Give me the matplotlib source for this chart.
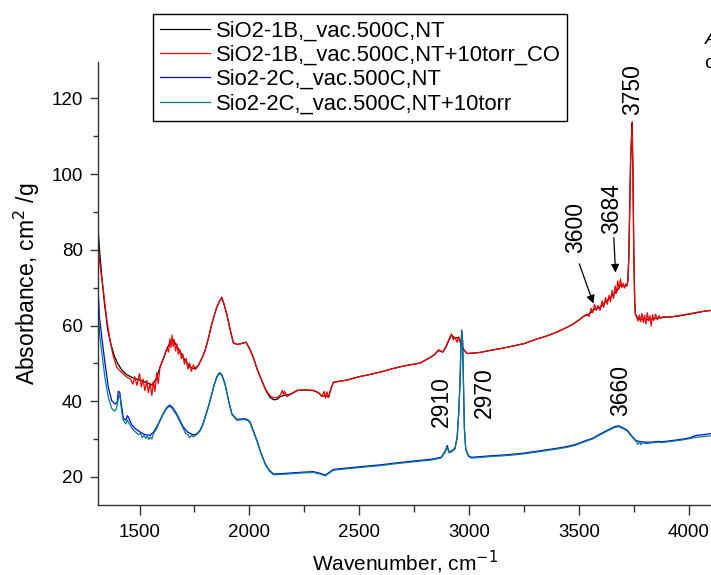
import matplotlib
matplotlib.use("Agg")
import matplotlib.pyplot as plt
from matplotlib.ticker import MultipleLocator

plt.rcParams['font.family'] = ['Liberation Sans', 'DejaVu Sans']

labels = ["SiO2-1B,_vac.500C,NT",
          "SiO2-1B,_vac.500C,NT+10torr_CO",
          "Sio2-2C,_vac.500C,NT",
          "Sio2-2C,_vac.500C,NT+10torr"]
colors = ["#000000", "#ff0000", "#0000ff", "#008080"]

# SiO2-1B, vac 500C, NT  (wavenumber, absorbance)
black_pts = [
    (1311, 86), (1318, 80), (1328, 73), (1340, 66), (1355, 59), (1370, 55), (1385, 52),
    (1400, 50), (1420, 48.2), (1442, 47), (1470, 46.2), (1500, 45.6), (1530, 45),
    (1556, 44.3), (1575, 45.8), (1593, 49), (1610, 51.5), (1625, 54), (1640, 55.5),
    (1650, 56.5), (1665, 55), (1684, 53.2), (1705, 51), (1730, 49), (1750, 48.6),
    (1768, 49.5), (1785, 51.5), (1798, 53.4), (1815, 57), (1829, 60.5), (1851, 64.8),
    (1862, 66.2), (1874, 67.5), (1885, 65.5), (1897, 63), (1912, 59), (1927, 55.4),
    (1945, 55), (1960, 55.2), (1973, 55.4), (1985, 55.6), (2003, 53.6), (2018, 51.5),
    (2035, 48.5), (2056, 45.5), (2075, 42.8), (2094, 41.0), (2110, 40.4), (2125, 40.5),
    (2140, 41.2), (2160, 41.6), (2190, 41.9), (2216, 42.8), (2250, 43.0), (2292, 42.8),
    (2315, 42.2), (2330, 41.3), (2345, 41.5), (2360, 41.1), (2370, 43.2), (2382, 45.0),
    (2410, 45.3), (2443, 45.6), (2500, 46.5), (2550, 47.1), (2595, 47.7), (2650, 48.6),
    (2700, 49.3), (2777, 50.1), (2820, 51.5), (2840, 52.2), (2860, 53.4), (2880, 53.0),
    (2895, 54.4), (2905, 55.8), (2919, 57.5), (2935, 56.7), (2952, 56.8), (2962, 55.2),
    (2973, 53.8), (2990, 52.6), (3050, 52.9), (3092, 53.4), (3150, 54.0), (3200, 54.6),
    (3248, 55.2), (3300, 56.3), (3350, 57.2), (3400, 58.3), (3437, 59.3), (3470, 60.3),
    (3500, 61.5), (3519, 62.4), (3545, 63.0), (3570, 64.3), (3595, 64.8), (3620, 66.2),
    (3645, 67.5), (3670, 69.0), (3688, 70.6), (3700, 70.5), (3712, 70.4), (3718, 70.6),
    (3722, 72), (3726, 78), (3730, 90), (3734, 103), (3738, 109), (3741, 113.5),
    (3745, 100), (3749, 78), (3753, 66), (3756, 63), (3768, 61.8), (3790, 61.5),
    (3820, 61.6), (3850, 61.9), (3884, 62.2), (3920, 62.3), (3961, 62.6), (4000, 63.0),
    (4037, 63.4), (4070, 63.8), (4100, 64.0)]

# SiO2-1B, vac 500C, NT + 10 torr CO
red_pts = [
    (1311, 81.5), (1320, 76), (1334, 70), (1350, 62), (1366, 56), (1380, 52), (1396, 49),
    (1420, 47.5), (1442, 46.4), (1460, 45.8), (1470, 44.5), (1478, 46.5), (1488, 44.2),
    (1500, 47.3), (1508, 43.8), (1516, 45.9), (1524, 42.8), (1533, 45.5), (1540, 42.3),
    (1548, 44.8), (1556, 41.5), (1563, 45.2), (1570, 42.6), (1578, 47.5), (1585, 44.6),
    (1593, 49), (1610, 51.5), (1625, 54), (1632, 53), (1638, 56.5), (1643, 54.2),
    (1648, 57.5), (1653, 54.5), (1658, 56.2), (1664, 53.3), (1670, 55.2), (1676, 52.4),
    (1684, 53.6), (1690, 51.2), (1697, 52.5), (1704, 49.8), (1712, 51.3), (1720, 48.5),
    (1728, 50.1), (1736, 47.9), (1745, 49.6), (1755, 48.4), (1768, 49.6), (1785, 51.5),
    (1798, 53.4), (1815, 57), (1829, 60.5), (1851, 64.8), (1862, 66.2), (1874, 67.3),
    (1885, 65.5), (1897, 63), (1912, 59), (1927, 55.4), (1945, 55), (1960, 55.2),
    (1973, 55.4), (1985, 55.6), (2003, 53.6), (2018, 51.5), (2035, 48.5), (2056, 45.5),
    (2075, 43), (2094, 41.4), (2110, 40.9), (2125, 41.0), (2140, 41.6), (2150, 42.9),
    (2155, 41.8), (2160, 42.6), (2170, 41.2), (2190, 42.0), (2216, 42.9), (2250, 43.0),
    (2292, 42.9), (2315, 42.3), (2330, 41.3), (2340, 42.6), (2346, 40.8), (2352, 42.5),
    (2360, 41.0), (2370, 43.3), (2382, 45.0), (2410, 45.3), (2443, 45.6), (2500, 46.5),
    (2550, 47.1), (2595, 47.7), (2650, 48.6), (2700, 49.3), (2777, 50.1), (2820, 51.5),
    (2840, 52.2), (2860, 53.6), (2880, 53.0), (2895, 54.6), (2905, 56.0), (2919, 57.8),
    (2928, 56.2), (2935, 56.9), (2945, 55.6), (2952, 57.0), (2962, 55.2), (2973, 53.8),
    (2990, 52.6), (3050, 52.9), (3092, 53.4), (3150, 54.0), (3200, 54.6), (3248, 55.2),
    (3300, 56.3), (3350, 57.2), (3400, 58.3), (3437, 59.3), (3470, 60.3), (3500, 61.5),
    (3519, 62.4), (3535, 63.0), (3545, 62.4), (3555, 64.6), (3562, 63.4), (3570, 65.6),
    (3578, 64.0), (3586, 65.3), (3595, 64.0), (3605, 66.5), (3612, 64.8), (3620, 67.4),
    (3628, 65.6), (3636, 68.0), (3643, 66.3), (3650, 69.3), (3657, 67.2), (3664, 70.5),
    (3670, 68.5), (3676, 71.8), (3682, 69.7), (3688, 72.3), (3694, 70.0), (3700, 71.2),
    (3706, 69.9), (3712, 71.0), (3718, 70.6), (3722, 72), (3726, 78), (3730, 90),
    (3734, 103), (3738, 109), (3741, 113.9), (3745, 100), (3749, 78), (3753, 66),
    (3756, 63), (3762, 62.2), (3768, 61.2), (3774, 62.8), (3779, 61.0), (3786, 63.2),
    (3792, 60.8), (3798, 62.7), (3804, 60.4), (3810, 63.4), (3816, 61.2), (3822, 62.6),
    (3828, 59.9), (3834, 62.9), (3840, 61.3), (3848, 63.0), (3856, 61.5), (3864, 62.6),
    (3872, 61.9), (3884, 62.4), (3900, 62.2), (3920, 62.3), (3940, 62.5), (3961, 62.7),
    (3990, 63.0), (4010, 63.2), (4037, 63.5), (4070, 63.8), (4100, 64.0)]

# Sio2-2C, vac 500C, NT
blue_pts = [
    (1311, 70), (1318, 62), (1328, 57), (1343, 50), (1358, 43.7), (1373, 40.2), (1388, 39.3),
    (1398, 39.6), (1403, 42.6), (1410, 42.4), (1414, 40.5), (1419, 38.5), (1426, 35.6),
    (1438, 35.0), (1445, 36.2), (1452, 35.5), (1464, 33.8), (1480, 32.8), (1502, 31.9),
    (1520, 31.3), (1535, 31.1), (1548, 31.0), (1563, 31.8), (1578, 33.2), (1593, 35),
    (1608, 36.8), (1622, 38.2), (1636, 39.0), (1650, 38.4), (1669, 36.7), (1685, 34.8),
    (1699, 33.2), (1720, 31.8), (1745, 31.1), (1760, 31.4), (1775, 32.3), (1787, 33.8),
    (1798, 35.8), (1815, 39), (1829, 42), (1840, 44.5), (1851, 46.4), (1860, 47.3),
    (1867, 47.5), (1876, 46.8), (1889, 44.6), (1905, 40.3), (1920, 36.7), (1943, 35.2),
    (1960, 35.3), (1980, 35.4), (1995, 35.0), (2003, 34.5), (2018, 32.2), (2034, 29.7),
    (2050, 26.8), (2071, 23.6), (2090, 21.8), (2109, 20.8), (2150, 20.9), (2200, 21.1),
    (2250, 21.3), (2291, 21.4), (2320, 21.0), (2345, 20.5), (2360, 21.1), (2382, 22.0),
    (2450, 22.4), (2520, 22.8), (2595, 23.2), (2680, 23.8), (2777, 24.4), (2830, 24.7),
    (2872, 25.2), (2890, 26.8), (2900, 28.3), (2908, 26.6), (2918, 26.8), (2935, 27.6),
    (2945, 30.5), (2952, 37), (2958, 45), (2962, 54), (2966, 58.8), (2970, 56),
    (2974, 44), (2978, 33), (2984, 27.5), (2997, 25.6), (3011, 25.2), (3100, 25.6),
    (3180, 25.9), (3248, 26.3), (3320, 26.9), (3400, 27.6), (3450, 28.1), (3484, 28.6),
    (3520, 29.4), (3560, 30.2), (3594, 31.3), (3620, 32.1), (3645, 32.8), (3662, 33.3),
    (3680, 33.5), (3700, 33.0), (3720, 32.3), (3740, 30.8), (3759, 29.6), (3780, 29.3),
    (3800, 29.2), (3830, 29.2), (3860, 29.4), (3877, 29.3), (3920, 29.6), (3960, 29.9),
    (4000, 30.3), (4034, 31.0), (4070, 31.2), (4100, 31.5)]

# Sio2-2C, vac 500C, NT + 10 torr
teal_pts = [
    (1311, 66), (1318, 58), (1328, 53), (1343, 46), (1358, 41), (1373, 38.2), (1385, 37.4),
    (1393, 37.8), (1400, 39.5), (1406, 41.6), (1412, 41.0), (1418, 37.5), (1426, 35.0),
    (1438, 34.0), (1445, 35.0), (1452, 34.2), (1464, 33.0), (1480, 32.0), (1495, 31.2),
    (1505, 31.5), (1512, 30.4), (1520, 31.0), (1528, 30.2), (1535, 30.9), (1542, 29.9),
    (1548, 30.6), (1556, 30.0), (1563, 31.4), (1578, 32.8), (1593, 34.8), (1608, 36.6),
    (1622, 38.0), (1636, 38.7), (1650, 38.0), (1669, 36.3), (1685, 34.4), (1699, 32.8),
    (1710, 31.5), (1720, 31.2), (1728, 30.4), (1736, 31.0), (1745, 30.6), (1760, 31.2),
    (1775, 32.1), (1787, 33.6), (1798, 35.6), (1815, 38.8), (1829, 41.8), (1840, 44.3),
    (1851, 46.2), (1860, 47.1), (1867, 47.3), (1876, 46.6), (1889, 44.4), (1905, 40.1),
    (1920, 36.5), (1943, 35.0), (1960, 35.1), (1980, 35.2), (1995, 34.8), (2003, 34.3),
    (2018, 32.0), (2034, 29.5), (2050, 26.6), (2071, 23.4), (2090, 21.6), (2109, 20.6),
    (2150, 20.7), (2200, 20.9), (2250, 21.1), (2291, 21.2), (2320, 20.8), (2345, 20.3),
    (2360, 20.9), (2382, 21.8), (2450, 22.2), (2520, 22.6), (2595, 23.0), (2680, 23.6),
    (2777, 24.2), (2830, 24.5), (2872, 25.0), (2890, 26.5), (2900, 27.9), (2908, 26.4),
    (2918, 26.6), (2935, 27.4), (2945, 30.3), (2952, 36.5), (2958, 44.5), (2962, 53.5),
    (2966, 58.4), (2970, 55.5), (2974, 43.5), (2978, 32.5), (2984, 27.3), (2997, 25.4),
    (3011, 25.0), (3100, 25.4), (3180, 25.7), (3248, 26.1), (3320, 26.7), (3400, 27.4),
    (3450, 27.9), (3484, 28.4), (3520, 29.2), (3560, 30.0), (3594, 31.1), (3620, 31.9),
    (3645, 32.6), (3662, 33.1), (3680, 33.3), (3700, 32.8), (3720, 32.1), (3740, 30.6),
    (3759, 29.4), (3768, 28.6), (3775, 29.3), (3782, 28.5), (3790, 29.2), (3800, 28.8),
    (3830, 29.0), (3860, 29.2), (3877, 29.1), (3920, 29.4), (3960, 29.7), (4000, 30.1),
    (4034, 30.5), (4070, 30.7), (4100, 30.9)]

series = [black_pts, red_pts, blue_pts, teal_pts]

# peak annotations: (text, x, y), arrows: (text, text_xy, arrow_tail, arrow_tip)
peak_labels = [("3750", 3741, 122.3), ("2910", 2872, 40.0), ("2970", 3068, 42.2),
               ("3660", 3688, 42.9)]
arrow_labels = [("3600", (3483, 85.8), (3501, 76.3), (3565, 65.8)),
                ("3684", (3650, 91.0), (3658, 83.2), (3665.5, 74.0))]

fig = plt.figure(figsize=(7.11, 5.75), dpi=100)
ax = fig.add_axes([98 / 711, 1 - 505 / 575, 1 - 98 / 711, (505 - 61.7) / 575])

for pts, c, lab in zip(series, colors, labels):
    xs = [p[0] for p in pts]
    ys = [p[1] for p in pts]
    ax.plot(xs, ys, color=c, lw=0.9, label=lab)

ax.set_xlim(1311, 4100)
ax.set_ylim(12.6, 129.7)
ax.xaxis.set_major_locator(MultipleLocator(500))
ax.xaxis.set_minor_locator(MultipleLocator(250))
ax.yaxis.set_major_locator(MultipleLocator(20))
ax.yaxis.set_minor_locator(MultipleLocator(10))
for s in ("top", "right"):
    ax.spines[s].set_visible(False)
for s in ("left", "bottom"):
    ax.spines[s].set_color("#333333")
    ax.spines[s].set_linewidth(1.0)
ax.tick_params(axis="x", which="major", direction="out", length=7, width=1,
               color="#333333", labelsize=13.5, pad=7)
ax.tick_params(axis="x", which="minor", direction="out", length=5, width=1, color="#333333")
ax.tick_params(axis="y", which="major", direction="out", length=6, width=1,
               color="#333333", labelsize=13.5, pad=5)
ax.tick_params(axis="y", which="minor", direction="out", length=3.5, width=1, color="#333333")

ax.set_xlabel("Wavenumber, cm$^{-1}$", fontsize=15, labelpad=5)
ax.set_ylabel("Absorbance, cm$^{2}$ /g", fontsize=16.5, labelpad=7)

for t, x, y in peak_labels:
    ax.text(x, y, t, rotation=90, ha="center", va="center", fontsize=16.5)
for t, txy, tail, tip in arrow_labels:
    ax.text(txy[0], txy[1], t, rotation=90, ha="center", va="center", fontsize=16.5)
    ax.annotate("", xy=tip, xytext=tail,
                arrowprops=dict(arrowstyle="-|>", color="black", lw=0.9,
                                mutation_scale=12, shrinkA=0, shrinkB=0))

leg = fig.legend(loc="upper left", bbox_to_anchor=(153 / 711, 1 - 14 / 575),
                 bbox_transform=fig.transFigure, fontsize=15.8, frameon=True,
                 fancybox=False, framealpha=1, edgecolor="black", borderpad=0.3,
                 labelspacing=0.15, handlelength=2.3, handletextpad=0.25,
                 borderaxespad=0)
leg.get_frame().set_linewidth(1.0)

fig.text(705 / 711, 1 - 40 / 575, "A", fontsize=14, style="italic", va="center", ha="left")
fig.text(704 / 711, 1 - 63 / 575, "c", fontsize=14, va="center", ha="left")

fig.savefig("out.png", dpi=100)
